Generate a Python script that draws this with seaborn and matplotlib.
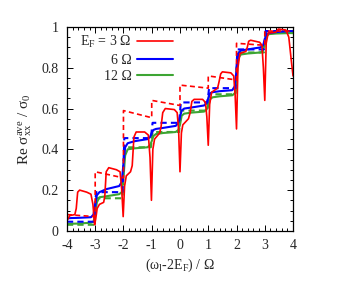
import numpy as np
import pandas as pd
import matplotlib
matplotlib.use('Agg')
import matplotlib.pyplot as plt
import seaborn as sns
from matplotlib.ticker import MultipleLocator, FuncFormatter

sns.set_style('ticks')
plt.rcParams['font.family'] = ['Liberation Serif', 'DejaVu Serif']
plt.rcParams['mathtext.fontset'] = 'custom'
plt.rcParams['mathtext.rm'] = 'Liberation Serif'
plt.rcParams['mathtext.it'] = 'Liberation Serif:italic'
plt.rcParams['axes.unicode_minus'] = False

# %%
# E_F = 3 Omega, full curve (red solid)
red_x = [-4.0, -3.9, -3.72, -3.67, -3.62, -3.55, -3.3, -3.15, -3.08, -3.02,
         -2.98, -2.93, -2.85, -2.7, -2.66, -2.61, -2.52, -2.25, -2.12, -2.06, -2.01,
         -1.96, -1.9, -1.75, -1.69, -1.63, -1.55, -1.25, -1.12, -1.06, -1.01,
         -0.96, -0.9, -0.72, -0.67, -0.61, -0.52, -0.2, -0.1, -0.05, 0.0,
         0.05, 0.1, 0.3, 0.36, 0.42, 0.5, 0.8, 0.9, 0.95, 1.0,
         1.05, 1.12, 1.33, 1.38, 1.44, 1.5, 1.8, 1.9, 1.95, 2.0,
         2.05, 2.12, 2.33, 2.38, 2.43, 2.5, 2.82, 2.9, 2.95, 3.0,
         3.05, 3.12, 3.4, 3.48, 3.75, 3.85, 3.95, 4.0]
red_y = [0.05, 0.075, 0.08, 0.11, 0.19, 0.20, 0.19, 0.18, 0.13, 0.03,
         0.06, 0.11, 0.13, 0.14, 0.17, 0.29, 0.31, 0.30, 0.29, 0.20, 0.07,
         0.22, 0.27, 0.29, 0.32, 0.46, 0.485, 0.485, 0.47, 0.36, 0.15,
         0.40, 0.45, 0.48, 0.51, 0.58, 0.60, 0.595, 0.58, 0.50, 0.29,
         0.48, 0.52, 0.55, 0.58, 0.635, 0.645, 0.645, 0.63, 0.56, 0.42,
         0.62, 0.68, 0.70, 0.73, 0.77, 0.78, 0.775, 0.76, 0.67, 0.50,
         0.80, 0.87, 0.88, 0.90, 0.93, 0.935, 0.925, 0.91, 0.80, 0.64,
         0.92, 0.97, 0.975, 0.99, 0.985, 0.95, 0.82, 0.76]

# E_F = 3 Omega, dashed sawtooth
red_dash_x = [-4, -3, -3, -2, -2, -1, -1, 0, 0, 1, 1, 2, 2, 3, 3, 4]
red_dash_y = [0.08, 0.07, 0.29, 0.26, 0.59, 0.555, 0.64, 0.615, 0.715, 0.70,
              0.76, 0.74, 0.92, 0.91, 0.98, 0.98]

# E_F = 6 and 12 Omega, solid curves
solid_x = [-4.0, -3.94, -3.85, -3.6, -3.15, -3.06,
           -3.0, -2.94, -2.85, -2.6, -2.15, -2.06,
           -2.0, -1.94, -1.85, -1.6, -1.15, -1.06,
           -1.0, -0.94, -0.85, -0.6, -0.15, -0.06,
           0.0, 0.06, 0.15, 0.4, 0.85, 0.94,
           1.0, 1.06, 1.15, 1.4, 1.85, 1.94,
           2.0, 2.06, 2.15, 2.4, 2.85, 2.94,
           3.0, 3.06, 3.15, 3.4, 3.85, 3.94, 4.0]
blue_y = [0.060, 0.062, 0.063, 0.064, 0.067, 0.08,
          0.13, 0.175, 0.19, 0.205, 0.22, 0.24,
          0.33, 0.41, 0.43, 0.44, 0.45, 0.46,
          0.48, 0.495, 0.50, 0.505, 0.515, 0.53,
          0.56, 0.59, 0.60, 0.605, 0.615, 0.625,
          0.65, 0.675, 0.68, 0.685, 0.69, 0.71,
          0.79, 0.87, 0.885, 0.89, 0.90, 0.91,
          0.94, 0.965, 0.97, 0.975, 0.98, 0.98, 0.98]
green_y = [0.033, 0.034, 0.035, 0.036, 0.04, 0.045,
           0.08, 0.14, 0.165, 0.17, 0.18, 0.19,
           0.26, 0.37, 0.40, 0.405, 0.41, 0.42,
           0.44, 0.465, 0.475, 0.48, 0.485, 0.495,
           0.52, 0.565, 0.575, 0.58, 0.585, 0.595,
           0.615, 0.645, 0.655, 0.66, 0.665, 0.675,
           0.74, 0.845, 0.865, 0.87, 0.875, 0.885,
           0.92, 0.955, 0.965, 0.968, 0.97, 0.97, 0.97]

# E_F = 6 and 12 Omega, dashed curves
dash_x = [-4.0, -3.03, -2.97, -2.03, -1.97, -1.03, -0.97, -0.03,
          0.03, 0.97, 1.03, 1.97, 2.03, 2.97, 3.03, 4.0]
blue_dash_y = [0.045, 0.045, 0.19, 0.19, 0.455, 0.455, 0.53, 0.53,
               0.63, 0.63, 0.70, 0.70, 0.89, 0.89, 0.98, 0.98]
green_dash_y = [0.03, 0.03, 0.16, 0.16, 0.41, 0.41, 0.485, 0.485,
                0.59, 0.59, 0.67, 0.67, 0.875, 0.875, 0.975, 0.975]

labels = ['E$_\\mathrm{F}$ = 3 Ω', '6 Ω', '12 Ω']
RED, BLUE, GREEN = '#ff0000', '#0000ff', '#3da533'

# %%
fig = plt.figure(figsize=(3.38, 2.84), dpi=100)
ax = fig.add_axes([0.198, 0.187, 0.669, 0.718])

def draw(x, y, color, lw, ls):
    sns.lineplot(x=x, y=y, ax=ax, color=color, lw=lw, ls=ls,
                 sort=False, estimator=None, legend=False)
    return ax.lines[-1]

dashes = (0, (3, 2))
draw(dash_x, green_dash_y, GREEN, 1.5, dashes)
h_green = draw(solid_x, green_y, GREEN, 1.5, '-')
draw(dash_x, blue_dash_y, BLUE, 1.5, dashes)
h_blue = draw(solid_x, blue_y, BLUE, 1.5, '-')
draw(red_dash_x, red_dash_y, RED, 1.2, dashes)
h_red = draw(red_x, red_y, RED, 1.2, '-')

ax.legend(handles=[h_red, h_blue, h_green], labels=labels,
          loc='upper right', bbox_to_anchor=(0.47, 0.965), frameon=False,
          markerfirst=False, handlelength=2.6, handletextpad=0.4,
          labelspacing=0.25, borderpad=0, borderaxespad=0, fontsize=10)

ax.set_xlim(-4, 4)
ax.set_ylim(0, 1)
ax.xaxis.set_major_locator(MultipleLocator(1))
ax.xaxis.set_minor_locator(MultipleLocator(0.2))
ax.yaxis.set_major_locator(MultipleLocator(0.2))
ax.yaxis.set_minor_locator(MultipleLocator(0.05))
fmt = FuncFormatter(lambda v, _: f'{v:g}')
ax.xaxis.set_major_formatter(fmt)
ax.yaxis.set_major_formatter(fmt)
ax.tick_params(which='both', direction='in', top=True, right=True,
               width=0.7, color='black', labelsize=10)
ax.tick_params(which='major', length=4.5, pad=6)
ax.tick_params(which='minor', length=2.3)
for s in ax.spines.values():
    s.set_color('black')
    s.set_linewidth(0.9)

ax.set_xlabel('(ω$_\\mathrm{l}$-2E$_\\mathrm{F}$) / Ω', fontsize=10, labelpad=3)
ax.set_ylabel('Re $\\mathrm{σ}_{\\mathrm{xx}}^{\\mathrm{ave}}$ / $\\mathrm{σ}_0$',
              fontsize=11, labelpad=5)

fig.savefig('out.png', dpi=100)
